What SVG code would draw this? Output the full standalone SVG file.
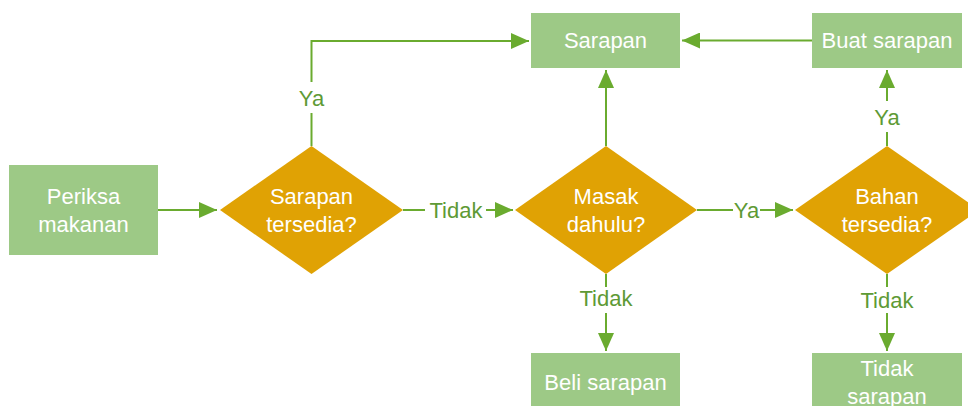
<svg xmlns="http://www.w3.org/2000/svg" width="968" height="406" viewBox="0 0 968 406">
  <defs>
    <marker id="arr" markerUnits="userSpaceOnUse" markerWidth="18" markerHeight="16" refX="18" refY="8" orient="auto">
      <path d="M0,0 L18,8 L0,16 z" fill="#6AAB2F"/>
    </marker>
    <style>
      .box { fill: #9DC986; }
      .dia { fill: #E0A204; }
      .t { font-family: "Liberation Sans", Arial, sans-serif; font-size: 22px; fill: #FFFFFF; text-anchor: middle; }
      .lbl { font-family: "Liberation Sans", Arial, sans-serif; font-size: 22px; fill: #5E9A35; text-anchor: middle; }
      .c { fill: none; stroke: #6AAB2F; stroke-width: 2; }
    </style>
  </defs>
  <rect width="968" height="406" fill="#FFFFFF"/>

  <g id="connectors">
    <path class="c" d="M158,210 L217,210" marker-end="url(#arr)"/>
    <path class="c" d="M311.5,146 L311.5,113"/>
    <path class="c" d="M311.5,82 L311.5,41 L529,41" marker-end="url(#arr)"/>
    <path class="c" d="M403,210 L425,210"/>
    <path class="c" d="M486,210 L513,210" marker-end="url(#arr)"/>
    <path class="c" d="M606,146 L606,70" marker-end="url(#arr)"/>
    <path class="c" d="M697,210 L733,210"/>
    <path class="c" d="M760,210 L793,210" marker-end="url(#arr)"/>
    <path class="c" d="M812,40.5 L682,40.5" marker-end="url(#arr)"/>
    <path class="c" d="M887,146 L887,132"/>
    <path class="c" d="M887,101 L887,70" marker-end="url(#arr)"/>
    <path class="c" d="M606,274 L606,287"/>
    <path class="c" d="M606,313 L606,351" marker-end="url(#arr)"/>
    <path class="c" d="M887,274 L887,287"/>
    <path class="c" d="M887,313 L887,351" marker-end="url(#arr)"/>
    <text class="lbl" x="311.5" y="106">Ya</text>
    <text class="lbl" x="456" y="218">Tidak</text>
    <text class="lbl" x="746.5" y="218">Ya</text>
    <text class="lbl" x="887" y="125">Ya</text>
    <text class="lbl" x="606" y="306">Tidak</text>
    <text class="lbl" x="887" y="308">Tidak</text>
  </g>

  <g id="periksa">
    <rect class="box" x="9" y="165" width="149" height="90"/>
    <text class="t" x="83.5" y="204">Periksa</text>
    <text class="t" x="83.5" y="232">makanan</text>
  </g>
  <g id="sarapan-tersedia">
    <polygon class="dia" points="220,210 311.5,146 403,210 311.5,274"/>
    <text class="t" x="311.5" y="204">Sarapan</text>
    <text class="t" x="311.5" y="232">tersedia?</text>
  </g>
  <g id="masak">
    <polygon class="dia" points="515,210 606,146 697,210 606,274"/>
    <text class="t" x="606" y="204">Masak</text>
    <text class="t" x="606" y="232">dahulu?</text>
  </g>
  <g id="bahan">
    <polygon class="dia" points="795,210 887,146 979,210 887,274"/>
    <text class="t" x="887" y="204">Bahan</text>
    <text class="t" x="887" y="232">tersedia?</text>
  </g>
  <g id="sarapan">
    <rect class="box" x="531" y="13" width="149" height="55"/>
    <text class="t" x="605.5" y="48">Sarapan</text>
  </g>
  <g id="buat">
    <rect class="box" x="812" y="13" width="150" height="55"/>
    <text class="t" x="887" y="48">Buat sarapan</text>
  </g>
  <g id="beli">
    <rect class="box" x="531" y="353" width="149" height="55"/>
    <text class="t" x="605.5" y="390">Beli sarapan</text>
  </g>
  <g id="tidak-sarapan">
    <rect class="box" x="812" y="353" width="150" height="55"/>
    <text class="t" x="887" y="376">Tidak</text>
    <text class="t" x="887" y="404">sarapan</text>
  </g>
</svg>
